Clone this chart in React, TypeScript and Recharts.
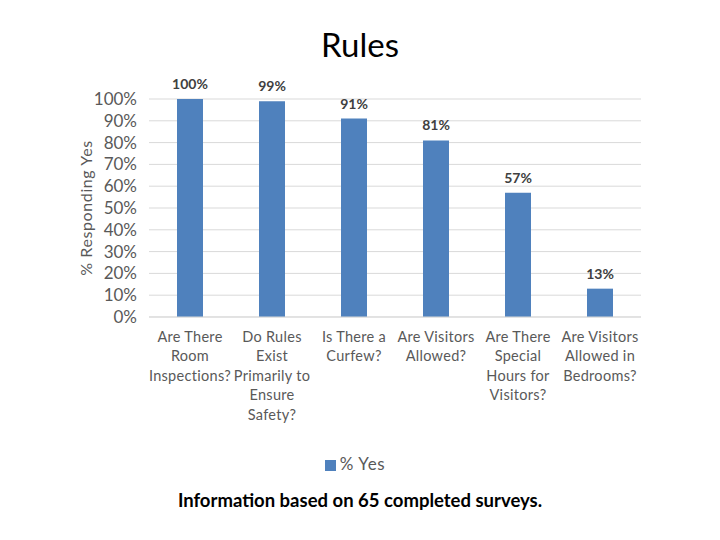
import React from 'react';
import { BarChart, Bar, XAxis, YAxis, CartesianGrid, LabelList, Legend } from 'recharts';

const categories = [
  'Are There\nRoom\nInspections?',
  'Do Rules\nExist\nPrimarily to\nEnsure\nSafety?',
  'Is There a\nCurfew?',
  'Are Visitors\nAllowed?',
  'Are There\nSpecial\nHours for\nVisitors?',
  'Are Visitors\nAllowed in\nBedrooms?',
];
const yesValues = [1.0, 0.99, 0.91, 0.81, 0.57, 0.13];
const yTicks = [0, 0.1, 0.2, 0.3, 0.4, 0.5, 0.6, 0.7, 0.8, 0.9, 1.0];

const data = categories.map((c, i) => ({ category: c, yes: yesValues[i] }));

const FONT = 'Lato, "Open Sans", sans-serif';
const pct = (v: number) => `${Math.round(v * 100)}%`;

const CategoryTick = (props: any) => {
  const { x, y, payload } = props;
  const lines: string[] = String(payload.value).split('\n');
  return (
    <text x={x} y={y} textAnchor="middle" fill="#595959" fontSize={14.5} letterSpacing={0.3} fontFamily={FONT}>
      {lines.map((l, i) => (
        <tspan key={i} x={x} dy={i === 0 ? 19 : 19.4}>
          {l}
        </tspan>
      ))}
    </text>
  );
};

export default function App() {
  return (
    <div style={{ position: 'absolute', left: 0, top: 0, width: 720, height: 540, background: '#fff', fontFamily: FONT }}>
      <div
        style={{
          position: 'absolute',
          left: 0,
          width: 720,
          top: 24,
          textAlign: 'center',
          fontSize: 33,
          lineHeight: '40px',
          color: '#000',
        }}
      >
        Rules
      </div>
      <BarChart
        width={720}
        height={540}
        data={data}
        margin={{ top: 99, right: 79, bottom: 102, left: 23 }}
        barCategoryGap={0}
      >
        <CartesianGrid vertical={false} stroke="#D9D9D9" />
        <XAxis
          dataKey="category"
          height={100}
          interval={0}
          tickLine={false}
          axisLine={{ stroke: '#D9D9D9' }}
          tickMargin={0}
          tick={<CategoryTick />}
        />
        <YAxis
          width={126}
          domain={[0, 1]}
          ticks={yTicks}
          interval={0}
          tickFormatter={pct}
          tickLine={false}
          axisLine={false}
          tickMargin={6}
          tick={{ fill: '#595959', fontSize: 17, fontFamily: FONT }}
          label={{
            value: '% Responding Yes',
            angle: -90,
            position: 'center',
            fill: '#595959',
            fontSize: 16,
            letterSpacing: 0.6,
            fontFamily: FONT,
          }}
        />
        <Legend
          verticalAlign="bottom"
          align="center"
          iconType="square"
          iconSize={11}
          wrapperStyle={{ position: 'absolute', top: 453, left: 0, width: 720, bottom: 'auto' }}
          formatter={(value: string) => (
            <span style={{ color: '#595959', fontSize: 17, letterSpacing: 0.6, fontFamily: FONT }}>{value}</span>
          )}
        />
        <Bar dataKey="yes" name="% Yes" fill="#4F81BD" barSize={26} isAnimationActive={false}>
          <LabelList
            dataKey="yes"
            position="top"
            offset={10}
            formatter={(v: any) => pct(Number(v))}
            style={{ fill: '#404040', fontSize: 14, fontWeight: 700, fontFamily: FONT }}
          />
        </Bar>
      </BarChart>
      <div
        style={{
          position: 'absolute',
          left: 0,
          width: 720,
          top: 488,
          textAlign: 'center',
          fontSize: 18.5,
          fontWeight: 700,
          lineHeight: '24px',
          color: '#000',
        }}
      >
        Information based on 65 completed surveys.
      </div>
    </div>
  );
}
